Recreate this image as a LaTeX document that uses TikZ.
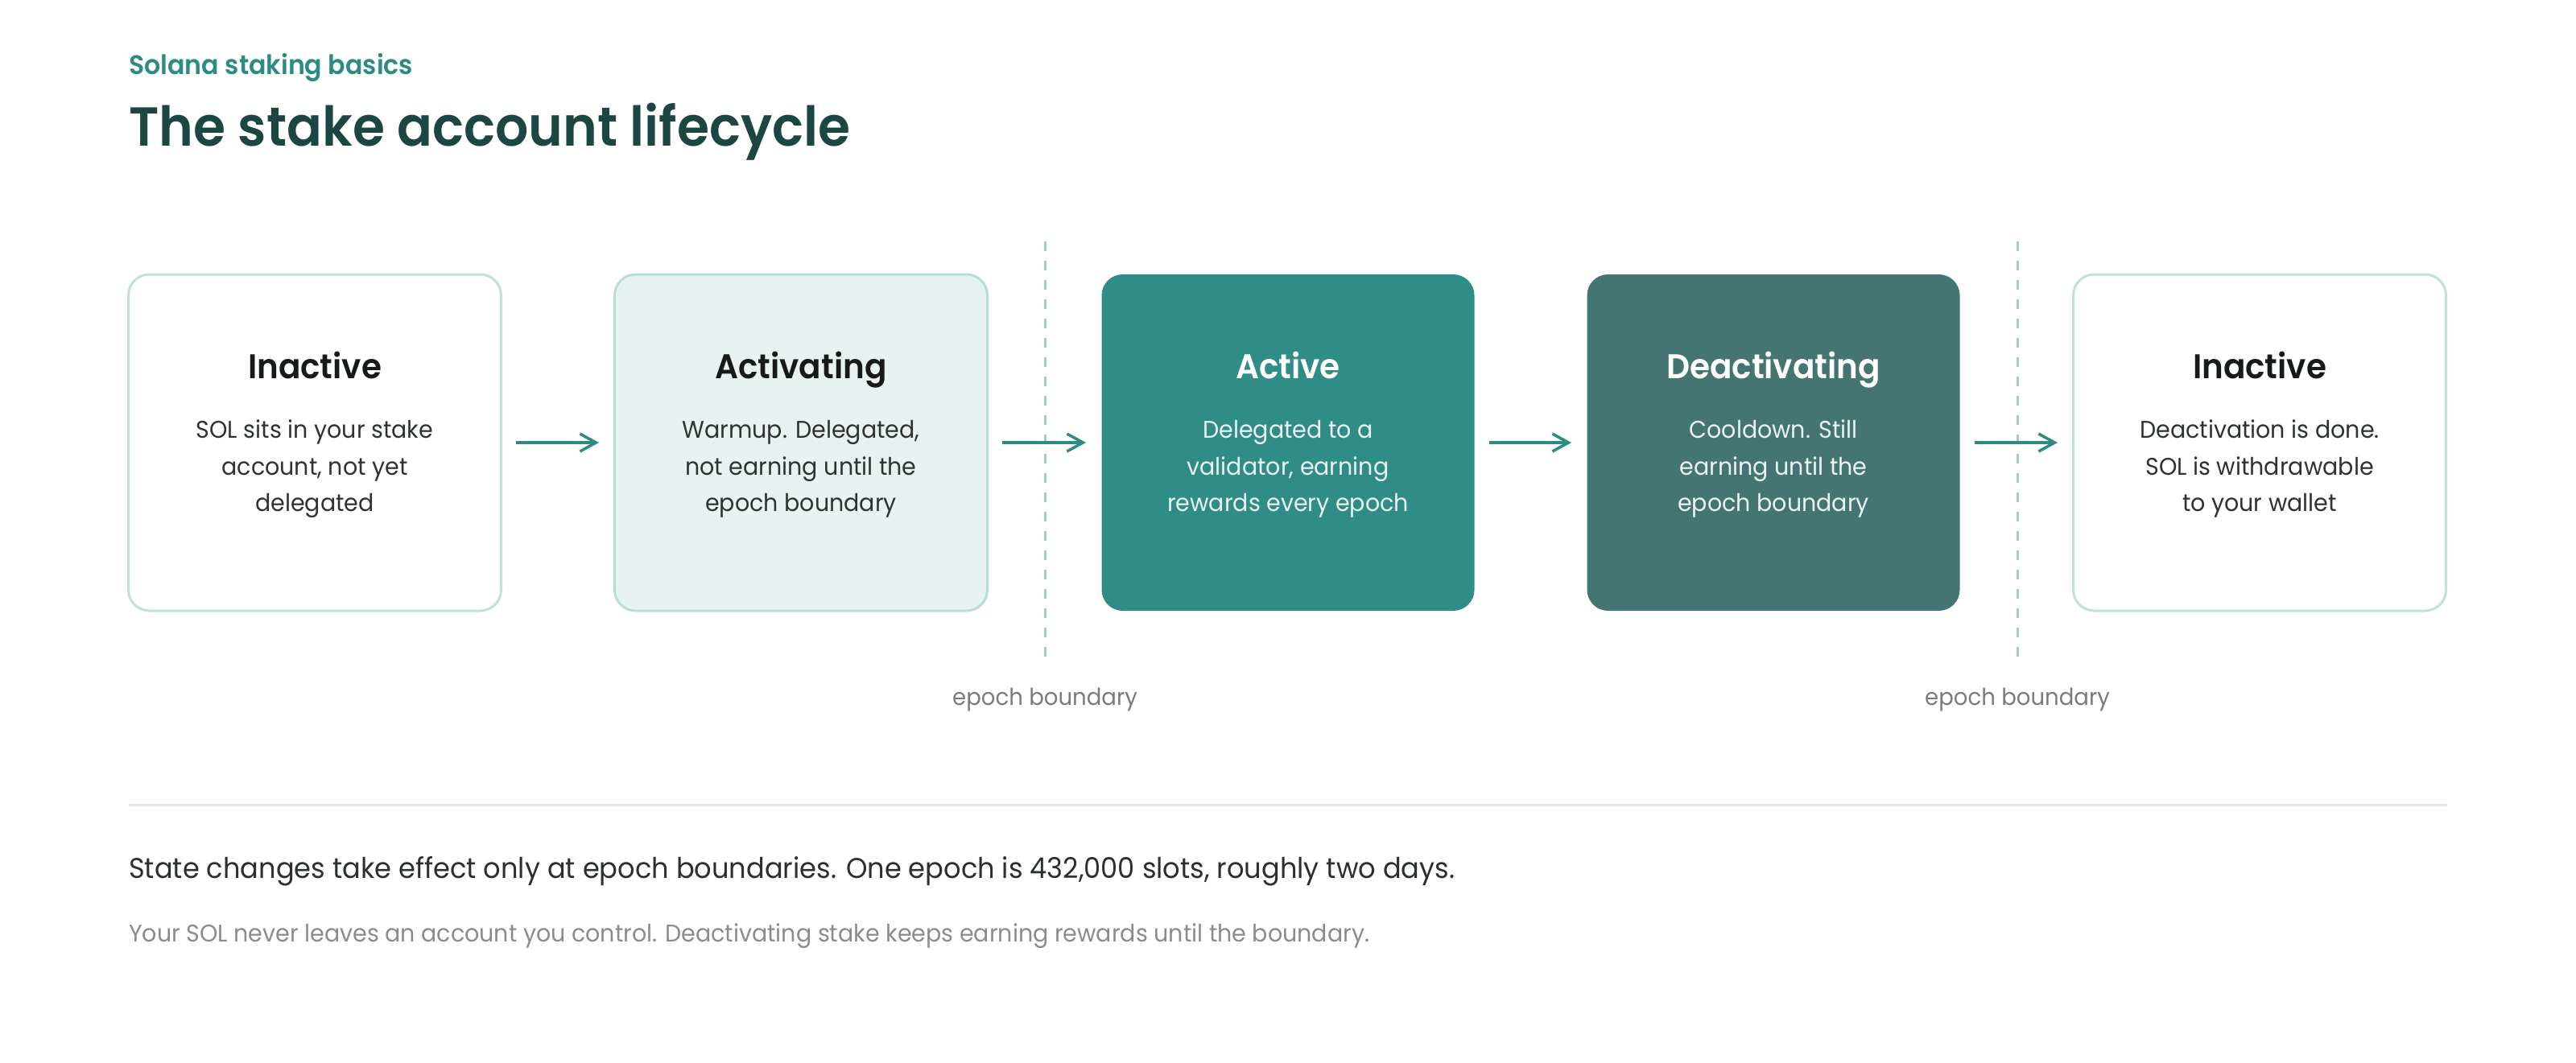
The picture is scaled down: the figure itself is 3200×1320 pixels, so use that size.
\documentclass[tikz,border=0pt]{standalone}
\usepackage{fontspec}
\setmainfont{Poppins}[FakeStretch=0.95]
\newfontfamily\semifont{Poppins SemiBold}[FakeStretch=0.95]
\usetikzlibrary{arrows.meta}
\definecolor{accent}{HTML}{2E8B84}
\definecolor{titlecol}{HTML}{1C4641}
\definecolor{lightborder}{HTML}{BFE1DB}
\definecolor{paleFill}{HTML}{E6F3F1}
\definecolor{activeFill}{HTML}{308C86}
\definecolor{deactFill}{HTML}{457572}
\definecolor{dashcol}{HTML}{9DD0C9}
\definecolor{headdark}{HTML}{161A19}
\definecolor{bodydark}{HTML}{2E3332}
\definecolor{bodylight}{HTML}{EAF4F2}
\definecolor{greylabel}{HTML}{7B7B7B}
\definecolor{sepcol}{HTML}{E4E7E6}
\definecolor{foot1}{HTML}{2B2F2E}
\definecolor{foot2}{HTML}{8A8C8B}
\tikzset{
  statebox/.style={rounded corners=26pt, minimum width=463pt, minimum height=418pt, inner sep=0pt, line width=3pt},
  plainbox/.style={statebox, draw=lightborder, fill=white},
  palebox/.style={statebox, draw=lightborder!95!accent, fill=paleFill},
  activebox/.style={statebox, fill=activeFill},
  deactbox/.style={statebox, fill=deactFill},
  headtxt/.style={anchor=base, inner sep=0pt, font=\semifont\fontsize{42.6}{50}\selectfont},
  bodytxt/.style={anchor=base, inner sep=0pt, font=\fontsize{30}{36}\selectfont},
  flow/.style={draw=accent, line width=3.5pt, -{Straight Barb[length=20pt,width=22pt,line width=3.5pt]}, shorten <=17pt, shorten >=18pt},
  boundary/.style={draw=dashcol, line width=3pt, dash pattern=on 12pt off 12pt},
  eplabel/.style={anchor=base, inner sep=0pt, text=greylabel, font=\fontsize{29}{34}\selectfont},
}
\begin{document}
\begin{tikzpicture}[x=1pt, y=-1pt]
\useasboundingbox (0,0) rectangle (3200,1320);
\node[anchor=base west, inner sep=0pt, text=accent, font=\semifont\fontsize{33.3}{40}\selectfont] (kicker) at (160,92) {Solana staking basics};
\node[anchor=base west, inner sep=0pt, text=titlecol, font=\semifont\fontsize{68.2}{78}\selectfont] (title) at (160,181) {The stake account lifecycle};

\node[plainbox] (b1) at (391,550) {};
\node[headtxt, text=headdark] (b1h) at (391,470) {Inactive};
\node[bodytxt, text=bodydark] (b1a) at (391,544) {SOL sits in your stake};
\node[bodytxt, text=bodydark] (b1b) at (391,590) {account, not yet};
\node[bodytxt, text=bodydark] (b1c) at (391,635) {delegated};

\node[palebox] (b2) at (995,550) {};
\node[headtxt, text=headdark] (b2h) at (995,470) {Activating};
\node[bodytxt, text=bodydark] (b2a) at (995,544) {Warmup. Delegated,};
\node[bodytxt, text=bodydark] (b2b) at (995,590) {not earning until the};
\node[bodytxt, text=bodydark] (b2c) at (995,635) {epoch boundary};

\node[activebox] (b3) at (1600,550) {};
\node[headtxt, text=white] (b3h) at (1600,470) {Active};
\node[bodytxt, text=bodylight] (b3a) at (1600,544) {Delegated to a};
\node[bodytxt, text=bodylight] (b3b) at (1600,590) {validator, earning};
\node[bodytxt, text=bodylight] (b3c) at (1600,635) {rewards every epoch};

\node[deactbox] (b4) at (2203,550) {};
\node[headtxt, text=white] (b4h) at (2203,470) {Deactivating};
\node[bodytxt, text=bodylight] (b4a) at (2203,544) {Cooldown. Still};
\node[bodytxt, text=bodylight] (b4b) at (2203,590) {earning until the};
\node[bodytxt, text=bodylight] (b4c) at (2203,635) {epoch boundary};

\node[plainbox] (b5) at (2807,550) {};
\node[headtxt, text=headdark] (b5h) at (2807,470) {Inactive};
\node[bodytxt, text=bodydark] (b5a) at (2807,544) {Deactivation is done.};
\node[bodytxt, text=bodydark] (b5b) at (2807,590) {SOL is withdrawable};
\node[bodytxt, text=bodydark] (b5c) at (2807,635) {to your wallet};

\coordinate (d1t) at (1298,300);
\coordinate (d1b) at (1298,816);
\coordinate (d2t) at (2506,300);
\coordinate (d2b) at (2506,816);
\draw[boundary] (d1t) -- (d1b);
\draw[boundary] (d2t) -- (d2b);
\node[eplabel] (e1) at (1298,876) {epoch boundary};
\node[eplabel] (e2) at (2506,876) {epoch boundary};

\draw[flow] (b1) -- (b2);
\draw[flow] (b2) -- (b3);
\draw[flow] (b3) -- (b4);
\draw[flow] (b4) -- (b5);

\coordinate (sepL) at (160,1000);
\coordinate (sepR) at (3040,1000);
\draw[sepcol, line width=3pt] (sepL) -- (sepR);

\node[anchor=base west, inner sep=0pt, text=foot1, font=\fontsize{35.4}{42}\selectfont] (f1) at (160,1091) {State changes take effect only at epoch boundaries. One epoch is 432,000 slots, roughly two days.};
\node[anchor=base west, inner sep=0pt, text=foot2, font=\fontsize{30}{36}\selectfont] (f2) at (160,1170) {Your SOL never leaves an account you control. Deactivating stake keeps earning rewards until the boundary.};
\end{tikzpicture}
\end{document}
